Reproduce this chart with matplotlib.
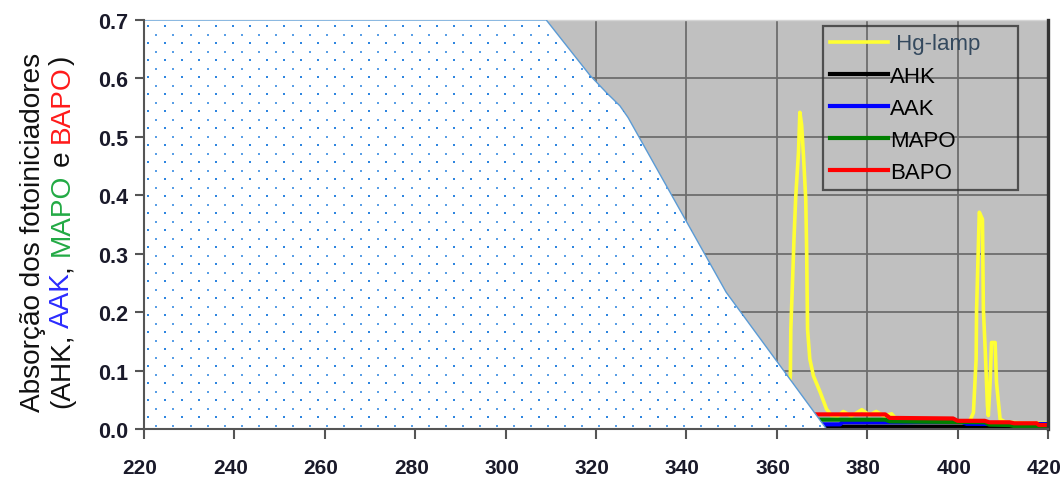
import matplotlib
matplotlib.use('Agg')
import matplotlib.pyplot as plt
import matplotlib.transforms as mtransforms
import numpy as np
from matplotlib.patches import Polygon

plt.rcParams['font.family'] = ['Liberation Sans', 'DejaVu Sans']

# ---------------- data ----------------
x_ticks = [220, 240, 260, 280, 300, 320, 340, 360, 380, 400, 420]
y_ticks = [0.0, 0.1, 0.2, 0.3, 0.4, 0.5, 0.6, 0.7]

hg_x = [220, 250, 300, 340, 358, 361, 362.5, 363.0, 363.1, 363.5, 363.8, 364.2, 364.8,
        365.1, 365.5, 365.9, 366.4, 366.6, 366.8, 367.3, 368.1, 369.6, 371.0, 372.1,
        373.5, 374.7, 376.5, 378.8, 380.5, 382.0, 383.8, 385.4, 387.0, 395.0, 402.5,
        403.5, 404.1, 404.2, 404.8, 405.5, 405.7, 406.1, 406.6, 406.8, 407.2, 407.5,
        408.3, 408.6, 409.4, 410.5, 415.0, 420.0]
hg_y = [0.0, 0.0, 0.0, 0.0, 0.005, 0.02, 0.06, 0.091, 0.171, 0.257, 0.325, 0.399, 0.474,
        0.542, 0.52, 0.468, 0.394, 0.308, 0.171, 0.12, 0.091, 0.063, 0.034, 0.023,
        0.022, 0.030, 0.022, 0.033, 0.024, 0.030, 0.022, 0.026, 0.012, 0.008, 0.010,
        0.028, 0.12, 0.205, 0.371, 0.359, 0.205, 0.137, 0.04, 0.023, 0.08, 0.148,
        0.148, 0.08, 0.017, 0.012, 0.010, 0.010]

ahk_x = [368, 385, 400, 410, 420]
ahk_y = [0.004, 0.004, 0.004, 0.003, 0.002]

aak_x = [368, 374, 374.5, 401, 402, 416, 417, 420]
aak_y = [0.008, 0.008, 0.0115, 0.0115, 0.009, 0.008, 0.0085, 0.0085]

mapo_x = [368, 384, 385, 400, 406, 407, 411.5, 412.5, 420]
mapo_y = [0.016, 0.016, 0.013, 0.012, 0.0115, 0.0075, 0.0068, 0.005, 0.0045]

bapo_x = [368, 384, 385, 399, 400, 406, 407, 411.5, 412.5, 417.5, 418, 420]
bapo_y = [0.025, 0.025, 0.019, 0.018, 0.014, 0.014, 0.0115, 0.0115, 0.0098, 0.0098,
          0.0068, 0.0068]

# white (dotted) region
filter_x = [220, 220, 309, 318.7, 322.4, 325.3, 327.1, 348.8, 371.0]
filter_y = [0.0, 0.7, 0.7, 0.605, 0.575, 0.553, 0.533, 0.234, 0.0]

series_names = ['Hg-lamp', 'AHK', 'AAK', 'MAPO', 'BAPO']

# ---------------- figure ----------------
W, H = 1063, 481
fig = plt.figure(figsize=(W / 100, H / 100), dpi=100)
ax = fig.add_axes([144 / W, 51 / H, 904 / W, 409 / H])
ax.set_facecolor('#c0c0c0')
ax.set_xlim(220, 420)
ax.set_ylim(0, 0.7)
ax.set_xticks(x_ticks)
ax.set_yticks(y_ticks)
ax.set_yticklabels([f'{v:.1f}' for v in y_ticks])
ax.grid(True, color='#6e6e6e', lw=1.3)
ax.set_axisbelow(True)

l_hg, = ax.plot(hg_x, hg_y, color='#ffff33', lw=2.6, zorder=2.9)
l_ahk, = ax.plot(ahk_x, ahk_y, color='#000000', lw=3, zorder=3.0)
l_aak, = ax.plot(aak_x, aak_y, color='#0000ff', lw=3, zorder=3.1)
l_mapo, = ax.plot(mapo_x, mapo_y, color='#008000', lw=3, zorder=3.2)
l_bapo, = ax.plot(bapo_x, bapo_y, color='#ff0000', lw=3, zorder=3.3)

poly = Polygon(np.column_stack([filter_x, filter_y]), closed=True,
               facecolor='white', edgecolor='#5b9bd5', lw=1.0, zorder=5)
ax.add_patch(poly)

# dot pattern inside the white region
pxx = 904 / 200.0
pxy = 409 / 0.7
bx = 220 + (4.3 + 17 * np.arange(0, 60)) / pxx
by = 0.7 - (6.3 + 17 * np.arange(0, 30)) / pxy
BX, BY = np.meshgrid(bx, by)
sx = bx + 8.2 / pxx
sy = by - 8.4 / pxy
SX, SY = np.meshgrid(sx, sy)
sc1 = ax.scatter(BX.ravel(), BY.ravel(), marker='s', s=4.2, color='#2f86e0',
                 linewidths=0, zorder=6)
sc2 = ax.scatter(SX.ravel(), SY.ravel(), marker='s', s=2.8, color='#5a9fe6',
                 linewidths=0, zorder=6)
sc1.set_clip_path(poly)
sc2.set_clip_path(poly)

# spines
for s in ['left', 'bottom']:
    ax.spines[s].set_color('#555555')
    ax.spines[s].set_linewidth(1.5)
    ax.spines[s].set_zorder(10)
ax.spines['right'].set_color('#333333')
ax.spines['right'].set_linewidth(2.4)
ax.spines['right'].set_zorder(10)
ax.spines['top'].set_color('#d5d5d5')
ax.spines['top'].set_linewidth(1.0)

ax.tick_params(axis='x', direction='out', length=7.2, width=1.5, color='#555555',
               labelsize=15, pad=14, labelcolor='#1a1a2a')
ax.tick_params(axis='y', direction='out', length=6.5, width=1.5, color='#555555',
               labelsize=15.5, pad=5, labelcolor='#1a1a2a')
shift = mtransforms.ScaledTranslation(-4 / 100, 0, fig.dpi_scale_trans)
for lab in ax.get_xticklabels():
    lab.set_fontweight('bold')
    lab.set_transform(lab.get_transform() + shift)
for lab in ax.get_yticklabels():
    lab.set_fontweight('bold')

# legend
leg = ax.legend([l_hg, l_ahk, l_aak, l_mapo, l_bapo], series_names,
                loc='upper left', bbox_to_anchor=(0.7514, 0.5, 0.2157, 0.4846),
                mode='expand', borderaxespad=0, fontsize=16, frameon=True,
                fancybox=False, handlelength=2.6, handletextpad=0.1,
                labelspacing=0.5, borderpad=0.32)
leg.get_frame().set_facecolor('none')
leg.get_frame().set_edgecolor('#333333')
leg.get_frame().set_linewidth(1.6)
leg.set_zorder(12)
leg.get_texts()[0].set_color('#34495e')
leg.get_texts()[0].set_text(' Hg-lamp')

# y label (two lines, coloured words)
renderer = fig.canvas.get_renderer()
fs_lab = 20.2
cy = H - 232  # pixel center (from bottom)

def text_len(s):
    t = fig.text(0, 0, s, fontsize=fs_lab)
    w = t.get_window_extent(renderer).width
    t.remove()
    return w

line1 = 'Absorção dos fotoiniciadores'
fig.text(33 / W, cy / H, line1, fontsize=fs_lab, rotation=90, ha='center',
         va='center', color='#111111')

full2 = '(AHK, AAK, MAPO e BAPO)'
pieces = [('(AHK,', '#111111'), ('AAK', '#2b2bff'), (',', '#111111'),
          ('MAPO', '#22aa44'), ('e', '#111111'), ('BAPO', '#ff1a1a'), (')', '#111111')]
L2 = text_len(full2)
y0 = cy - L2 / 2
pos = 0
for txt, col in pieces:
    idx = full2.find(txt, pos)
    if idx == 0:
        off = 0
    else:
        off = text_len(full2[:idx] + txt[0]) - text_len(txt[0])
    fig.text(62 / W, (y0 + off) / H, txt, fontsize=fs_lab, rotation=90,
             rotation_mode='anchor', ha='left', va='center', color=col)
    pos = idx + len(txt)

fig.savefig('out.png', dpi=100)
